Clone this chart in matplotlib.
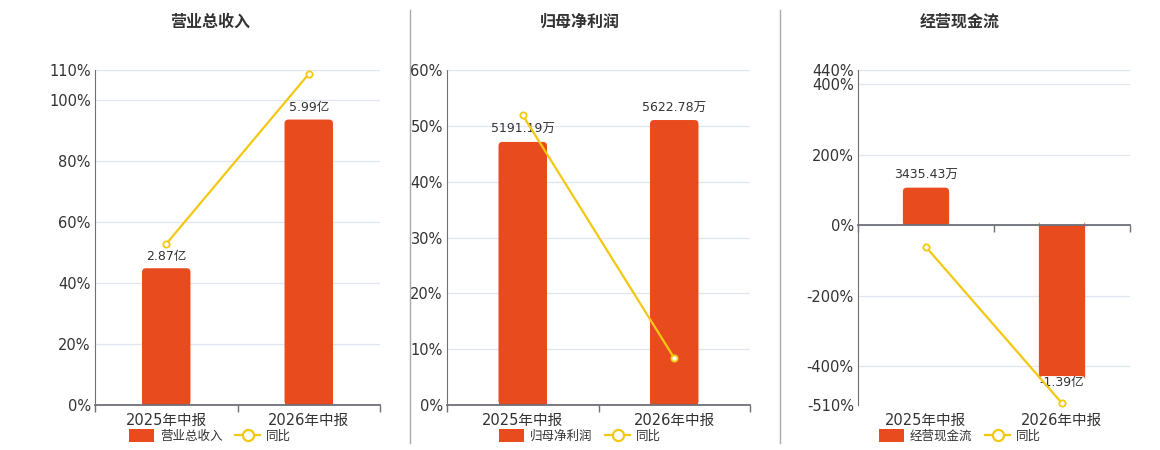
import numpy as np
import matplotlib
matplotlib.use("Agg")
import matplotlib.pyplot as plt
from matplotlib.patches import FancyBboxPatch, Patch
from matplotlib.lines import Line2D
from matplotlib.transforms import blended_transform_factory

plt.rcParams['font.family'] = ['DejaVu Sans', 'Noto Sans CJK SC']

categories = ['2025年中报', '2026年中报']

titles = ['营业总收入', '归母净利润', '经营现金流']
bar_values = [[2.87, 5.99], [5191.19, 5622.78], [3435.43, -13900.0]]
bar_labels = [['2.87亿', '5.99亿'], ['5191.19万', '5622.78万'], ['3435.43万', '-1.39亿']]
yoy_values = [[52.9, 108.7], [51.9, 8.4], [-62.0, -505.0]]

pct_ticks = [[0, 20, 40, 60, 80, 100, 110],
             [0, 10, 20, 30, 40, 50, 60],
             [-510, -400, -200, 0, 200, 400, 440]]
pct_lims = [(0, 110), (0, 60), (-510, 440)]
bar_lims = [(0, 7.03), (0, 6610), (-16560, 14260)]

# layout, in pixels of the 1160x450 picture
W, H = 1160, 450
ax_rects = [(95, 285), (447, 303), (858, 272)]
title_x = [210, 580, 960]
legend_x = [210, 580, 960]
bar_w = [0.34, 0.32, 0.34]

BAR = '#e84c1e'
LINE = '#f2c811'
AXIS = '#6e7079'
GRID = '#e0e6f1'
TXT = '#333333'

fig = plt.figure(figsize=(W / 100, H / 100), dpi=100)

for i in range(3):
    left, width = ax_rects[i]
    rect = [left / W, (H - 405) / H, width / W, 335 / H]
    x = np.arange(len(categories))

    # bar axis underneath, carries the grid
    axb = fig.add_axes(rect)
    axb.set_xlim(-0.5, len(categories) - 0.5)
    axb.set_ylim(*bar_lims[i])
    axb.set_yticks(np.interp(pct_ticks[i], pct_lims[i], bar_lims[i]))
    axb.yaxis.grid(True, color=GRID, lw=0.9)
    axb.set_axisbelow(True)
    axb.tick_params(left=False, labelleft=False, bottom=False, labelbottom=False)
    for s in axb.spines.values():
        s.set_visible(False)

    bars = axb.bar(x, bar_values[i], width=bar_w[i], color=BAR, zorder=2)
    # rounded end of each bar
    xr = 4 / width * len(categories)
    yr = 4 / 335 * (bar_lims[i][1] - bar_lims[i][0])
    for b in bars:
        bx, by, bw, bh = b.get_x(), b.get_y(), b.get_width(), b.get_height()
        fb = FancyBboxPatch((bx, by), bw, bh,
                            boxstyle='round,pad=0,rounding_size=%f' % xr,
                            mutation_aspect=yr / xr, fc=BAR, ec='none', zorder=2)
        axb.add_patch(fb)
        b.set_height(bh - np.sign(bh) * yr * 1.5)
    for xi, v, lab in zip(x, bar_values[i], bar_labels[i]):
        if v >= 0:
            axb.annotate(lab, (xi, v), xytext=(0, 4), textcoords='offset points',
                         ha='center', va='bottom', fontsize=9, color=TXT, zorder=5)
        else:
            axb.annotate(lab, (xi, v), xytext=(0, 0), textcoords='offset points',
                         ha='center', va='top', fontsize=9, color=TXT, zorder=5)

    # percentage axis on top
    ax = fig.add_axes(rect)
    ax.patch.set_visible(False)
    ax.set_xlim(-0.5, len(categories) - 0.5)
    ax.set_ylim(*pct_lims[i])
    ax.set_yticks(pct_ticks[i])
    ax.set_yticklabels(['%d%%' % t for t in pct_ticks[i]])
    ax.tick_params(axis='y', length=0, labelsize=10.5, labelcolor=TXT, pad=3)
    ax.set_xticks(np.arange(len(categories) + 1) - 0.5)
    ax.set_xticklabels([])
    ax.tick_params(axis='x', length=5, color=AXIS, width=1)
    for s in ['top', 'right']:
        ax.spines[s].set_visible(False)
    ax.spines['left'].set_color(AXIS)
    ax.spines['bottom'].set_color(AXIS)
    ax.spines['bottom'].set_linewidth(1.3)
    if pct_lims[i][0] < 0:
        ax.spines['bottom'].set_position(('data', 0))
    tr = blended_transform_factory(ax.transData, ax.transAxes)
    for xi, c in zip(x, categories):
        ax.text(xi, -0.025, c, transform=tr, ha='center', va='top',
                fontsize=10.5, color=TXT)

    ax.plot(x, yoy_values[i], color=LINE, lw=1.6, marker='o', ms=4.5,
            mfc='white', mec=LINE, mew=1.3, zorder=4, clip_on=False)

    fig.text(title_x[i] / W, 1 - 22 / H, titles[i], ha='center', va='center',
             fontsize=11.5, fontweight='bold', color=TXT)

    handles = [Patch(facecolor=BAR, edgecolor='none'),
               Line2D([], [], color=LINE, lw=1.6, marker='o', ms=8,
                      mfc='white', mec=LINE, mew=1.6)]
    fig.legend(handles, [titles[i], '同比'], loc='center',
               bbox_to_anchor=(legend_x[i] / W, 1 - 436 / H), ncol=2,
               frameon=False, fontsize=9, handlelength=2.0, handleheight=1.2,
               columnspacing=1.0, handletextpad=0.5, labelcolor=TXT)

# separators between the panels
for sx in [410, 780]:
    fig.add_artist(Line2D([sx / W, sx / W], [1 - 10 / H, 1 - 443 / H],
                          color='#aaaaaa', lw=1))

fig.savefig('out.png', dpi=100)
